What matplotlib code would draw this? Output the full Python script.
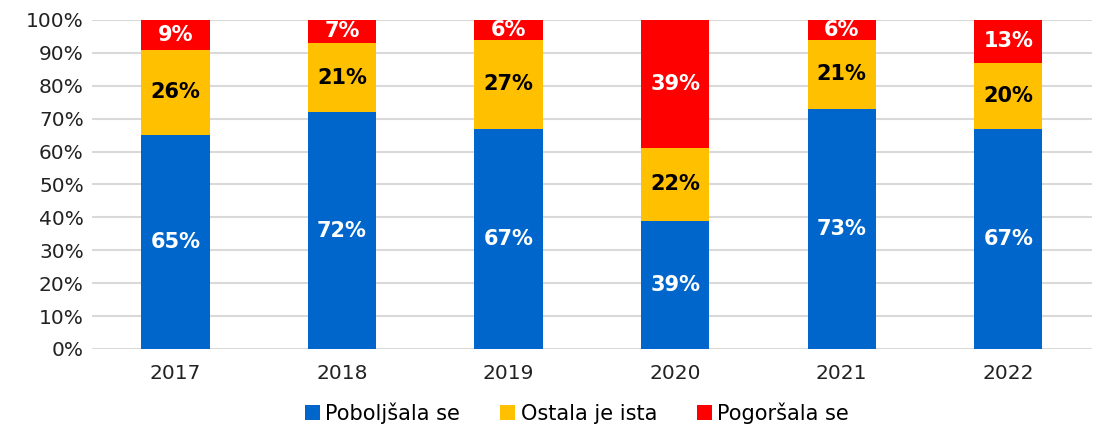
import matplotlib
matplotlib.use("Agg")
import matplotlib.pyplot as plt
import numpy as np

# --- Datos ---
anios = ["2017", "2018", "2019", "2020", "2021", "2022"]
poboljsala = [65, 72, 67, 39, 73, 67]
ostala = [26, 21, 27, 22, 21, 20]
pogorsala = [9, 7, 6, 39, 6, 13]
series = ["Poboljšala se", "Ostala je ista", "Pogoršala se"]

colores = ["#0066CC", "#FFC000", "#FF0000"]
color_texto = ["white", "black", "white"]

plt.rcParams['font.family'] = ['DejaVu Sans']

fig = plt.figure(figsize=(10.97, 4.25), dpi=100)
ax = fig.add_axes([0.084, 0.179, 0.911, 0.774])

x = np.arange(len(anios))
ancho = 0.41
base = np.zeros(len(anios))
for vals, nombre, col, tc in zip([poboljsala, ostala, pogorsala], series, colores, color_texto):
    vals = np.array(vals, dtype=float)
    ax.bar(x, vals, ancho, bottom=base, color=col, label=nombre, zorder=3)
    for xi, b, v in zip(x, base, vals):
        ax.text(xi, b + v / 2, f"{int(v)}%", ha="center", va="center",
                color=tc, fontsize=15, fontweight="bold", zorder=4)
    base += vals

ax.set_xlim(-0.5, len(anios) - 0.5)
ax.set_ylim(0, 100)
ax.set_yticks(range(0, 101, 10))
ax.set_yticklabels([f"{v}%" for v in range(0, 101, 10)], fontsize=14.5, color="#222222")
ax.set_xticks(x)
ax.set_xticklabels(anios, fontsize=14.5, color="#222222")
ax.tick_params(axis="both", length=0)
ax.tick_params(axis="y", pad=6)
ax.tick_params(axis="x", pad=11)
ax.yaxis.grid(True, color="#D9D9D9", linewidth=1.5, zorder=0)
for s in ax.spines.values():
    s.set_visible(False)

ax.legend(loc="lower center", bbox_to_anchor=(0.485, -0.265), ncol=3, frameon=False,
          fontsize=15, handlelength=0.75, handleheight=0.75, handletextpad=0.25,
          columnspacing=1.9, borderpad=0.1)

fig.savefig("out.png", dpi=100)
plt.close(fig)
